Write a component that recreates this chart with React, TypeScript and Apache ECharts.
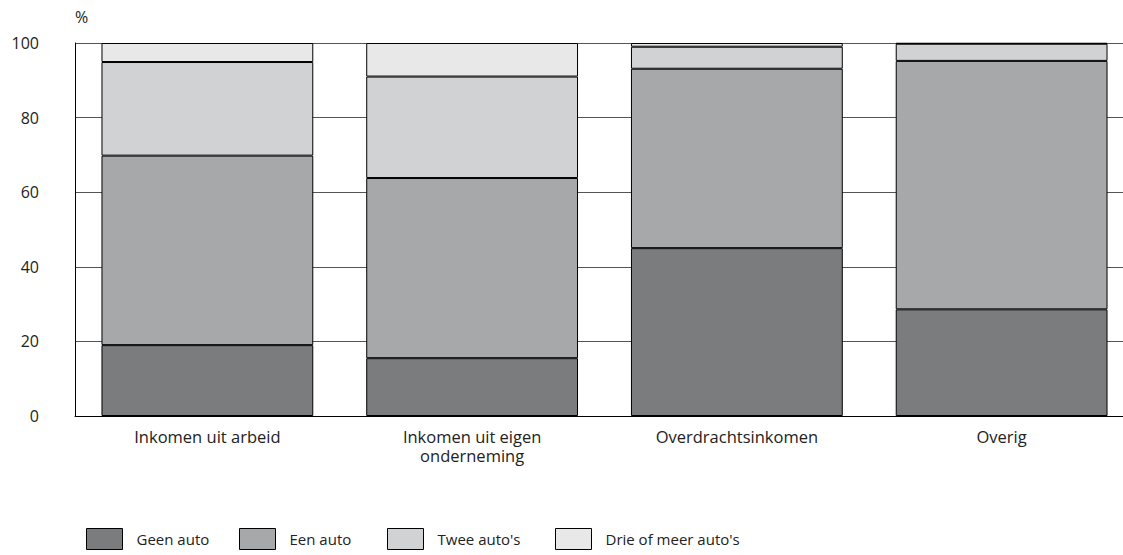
import React, { useEffect, useRef } from "react";
import * as echarts from "echarts";

const categories = ["Inkomen uit arbeid", "Inkomen uit eigen\nonderneming", "Overdrachtsinkomen", "Overig"];
const seriesNames = ["Geen auto", "Een auto", "Twee auto's", "Drie of meer auto's"];
const geenAuto = [19.0, 15.5, 45.0, 28.6];
const eenAuto = [50.8, 48.3, 48.1, 66.6];
const tweeAutos = [25.1, 27.2, 5.9, 4.6];
const drieOfMeer = [5.1, 9.0, 1.0, 0.2];
const yTicks = [0, 20, 40, 60, 80, 100];
const colors = ["#7b7c7e", "#a7a8aa", "#d1d2d4", "#e8e8e8"];
const legendLefts = [81, 234, 382, 550];

const FONT = "'Open Sans', 'Noto Sans', sans-serif";

export default function App() {
  const ref = useRef<HTMLDivElement>(null);
  useEffect(() => {
    const chart = echarts.init(ref.current!, null, { renderer: "svg" });
    const data = [geenAuto, eenAuto, tweeAutos, drieOfMeer];
    chart.setOption({
      animation: false,
      textStyle: { fontFamily: FONT },
      graphic: [
        { type: "text", left: 75, top: 9, style: { text: "%", font: `16px ${FONT}`, fill: "#222" } },
      ],
      legend: seriesNames.map((name, i) => ({
        left: legendLefts[i],
        top: 523,
        itemWidth: 36,
        itemHeight: 21,
        icon: "rect",
        data: [name],
        selectedMode: false,
        textStyle: { fontSize: 15, color: "#222", fontFamily: FONT, padding: [8, 0, 0, 9] },
        itemStyle: { borderColor: "#000", borderWidth: 1 },
      })),
      grid: { left: 75, top: 43, width: 1059, height: 373, containLabel: false, outerBoundsMode: "none" },
      xAxis: {
        type: "category",
        data: categories,
        axisLine: { show: true, lineStyle: { color: "#000", width: 1 } },
        axisTick: { show: false },
        axisLabel: { color: "#222", fontSize: 16.5, margin: 11, lineHeight: 19, fontFamily: FONT },
      },
      yAxis: {
        type: "value",
        min: yTicks[0],
        max: yTicks[yTicks.length - 1],
        interval: 20,
        axisLine: { show: true, lineStyle: { color: "#000", width: 1 } },
        axisTick: { show: false },
        axisLabel: { color: "#222", fontSize: 16, margin: 36, fontFamily: FONT },
        splitLine: { show: true, lineStyle: { color: "#555", width: 1 } },
      },
      series: seriesNames.map((name, i) => ({
        name,
        type: "bar",
        stack: "total",
        barCategoryGap: "20%",
        data: data[i],
        itemStyle: { color: colors[i], borderColor: "#000", borderWidth: 1 },
      })),
    });
    return () => chart.dispose();
  }, []);
  return (
    <div style={{ position: "absolute", left: 0, top: 0, width: 1123, height: 555, overflow: "hidden" }}>
      <div ref={ref} style={{ width: 1123, height: 555 }} />
    </div>
  );
}
